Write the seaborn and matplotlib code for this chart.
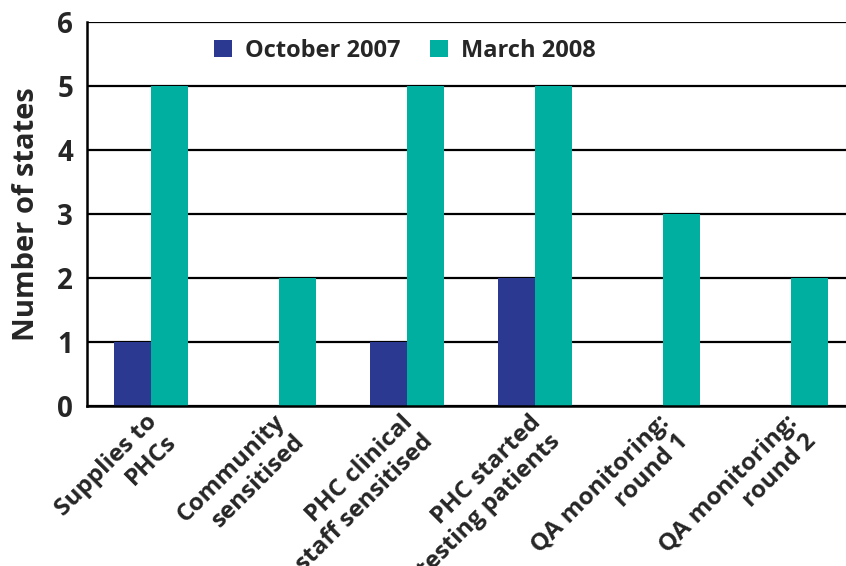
import matplotlib
matplotlib.use("Agg")
import matplotlib.pyplot as plt
import matplotlib.transforms as mtransforms
import seaborn as sns
import pandas as pd
from matplotlib.patches import Patch

categories = ["Supplies to\nPHCs", "Community\nsensitised", "PHC clinical\nstaff sensitised",
              "PHC started\ntesting patients", "QA monitoring:\nround 1", "QA monitoring:\nround 2"]
oct_2007 = [1, 0, 1, 2, 0, 0]
mar_2008 = [5, 2, 5, 5, 3, 2]
series = ["October 2007", "March 2008"]
yticks = [0, 1, 2, 3, 4, 5, 6]

sns.set_theme(style="white")
plt.rcParams['font.family'] = ['Open Sans', 'DejaVu Sans']
plt.rcParams['font.weight'] = 'bold'

df = pd.DataFrame({
    "cat": categories * 2,
    "val": oct_2007 + mar_2008,
    "series": [series[0]] * len(categories) + [series[1]] * len(categories),
})

colors = ["#2B3990", "#00AFA0"]

fig = plt.figure(figsize=(8.46, 5.66), dpi=100)
ax = fig.add_axes([87/846, 1-406/566, 768/846, (406-22)/566])

sns.barplot(data=df, x="cat", y="val", hue="series", palette=colors, width=0.58,
            saturation=1, ax=ax, legend=False, order=categories, hue_order=series,
            linewidth=0, edgecolor="none")

ax.set_ylim(0, 6)
ax.set_xlim(-0.5, 5.5)
ax.set_yticks(yticks)
ax.set_yticklabels([str(t) for t in yticks], fontsize=20, fontweight='bold')
ax.yaxis.grid(True, color='black', linewidth=1.6)
ax.set_axisbelow(True)

for s in ["top", "right"]:
    ax.spines[s].set_visible(False)
for s in ["left", "bottom"]:
    ax.spines[s].set_color('black')
    ax.spines[s].set_linewidth(1.8)

ax.tick_params(axis='y', direction='out', length=7, width=1.8, color='black', pad=3)
ax.set_xticks([i - 0.5 for i in range(len(categories) + 1)], minor=False)
ax.set_xticklabels([])
ax.tick_params(axis='x', which='major', direction='out', length=5, width=1.8, color='black')
ax.set_xticks(range(len(categories)), minor=True)
ax.set_xticklabels(categories, minor=True, rotation=45, ha='right', rotation_mode='anchor',
                   fontsize=17.5, fontweight='bold', multialignment='right')
ax.tick_params(axis='x', which='minor', length=0, pad=3)
offset = mtransforms.ScaledTranslation(-6/100, 0, fig.dpi_scale_trans)
for lab in ax.get_xticklabels(minor=True):
    lab.set_transform(lab.get_transform() + offset)

ax.set_xlabel("")
ax.set_ylabel("Number of states", fontsize=21, fontweight='bold', labelpad=12)

handles = [Patch(facecolor=c, edgecolor='none') for c in colors]
ax.legend(handles, series, loc='center left', bbox_to_anchor=(0.138, 0.925), ncol=2,
          frameon=False, handlelength=0.75, handleheight=0.75,
          columnspacing=1.25, handletextpad=0.55, prop={'weight': 'bold', 'size': 17})

fig.savefig("out.png", dpi=100)
